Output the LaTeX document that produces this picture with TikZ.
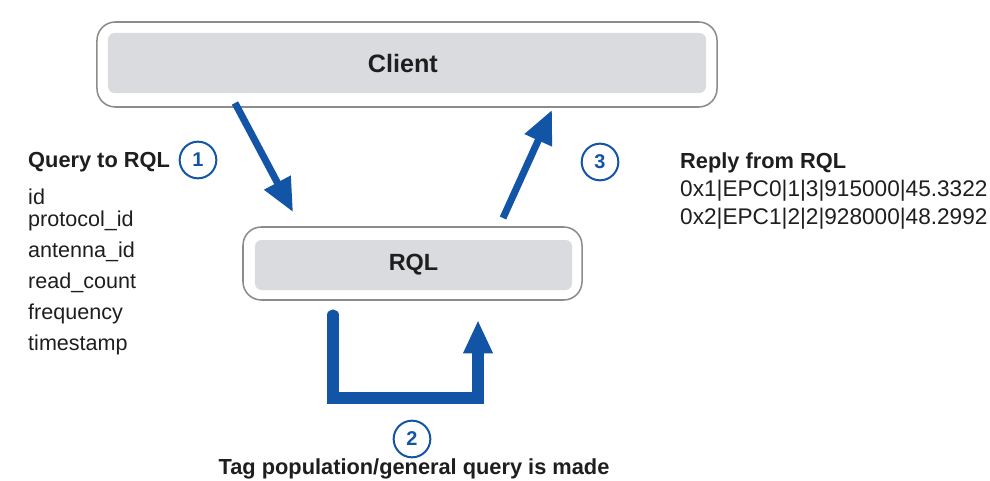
\documentclass[tikz,border=0pt]{standalone}
\usepackage{fontspec}
\setmainfont{Liberation Sans}
\usetikzlibrary{arrows.meta}
\definecolor{flowblue}{RGB}{18,84,165}
\definecolor{boxgray}{RGB}{218,219,222}
\definecolor{edgegray}{RGB}{140,140,140}
\definecolor{txt}{RGB}{30,30,30}
\begin{document}
\begin{tikzpicture}[x=0.03cm,y=-0.03cm,
  outerbox/.style={draw=edgegray,line width=1.3pt,fill=white,rounded corners=0.55cm,inner sep=0pt},
  innerbox/.style={fill=boxgray,rounded corners=0.2cm,inner sep=0pt,text=txt,font=\bfseries\fontsize{20}{22}\selectfont},
  stepnum/.style={circle,draw=flowblue,line width=1.7pt,text=flowblue,minimum size=1.1cm,inner sep=0pt,font=\bfseries\fontsize{17}{20}\selectfont},
  lbl/.style={anchor=west,inner sep=0pt,text=txt,font=\fontsize{18.4}{22}\selectfont},
  blbl/.style={anchor=west,inner sep=0pt,text=txt,font=\bfseries\fontsize{18.6}{22}\selectfont},
  flowarrow/.style={draw=flowblue,line width=6pt,-{Triangle[length=1.0cm,width=0.85cm]}},
  looparrow/.style={draw=flowblue,line width=9.5pt,-{Triangle[length=1.0cm,width=0.82cm]}}
]
\useasboundingbox[fill=white] (0,0) rectangle (990,480);

% boxes
\node[outerbox,minimum width=18.6cm,minimum height=2.55cm] (clientout) at (407,64.5) {};
\node[innerbox,minimum width=17.94cm,minimum height=1.8cm,font=\bfseries\fontsize{21.5}{24}\selectfont] (client) at (407,63) {\hspace*{-0.25cm}Client};
\node[outerbox,minimum width=10.17cm,minimum height=2.19cm] (rqlout) at (412.5,263.5) {};
\node[innerbox,minimum width=9.51cm,minimum height=1.5cm] (rql) at (413.5,265) {RQL};

% connector end points
\coordinate (a1s) at (235,103);
\coordinate (a1e) at (293,212);
\coordinate (a3s) at (503,218);
\coordinate (a3e) at (552,110);
\coordinate (l1) at (333,315);
\coordinate (l2) at (333,398);
\coordinate (l3) at (478,398);
\coordinate (l4) at (478,320);

\draw[flowarrow] (a1s) -- (a1e);
\draw[flowarrow] (a3s) -- (a3e);
\draw[looparrow,line cap=round] (l1) -- (l2) -- (l3) -- (l4);

% step numbers
\node[stepnum] (n1) at (198,160) {1};
\node[stepnum] (n2) at (412,439) {2};
\node[stepnum] (n3) at (600,162) {3};

% left text
\node[blbl] (q) at (28,162) {Query to RQL};
\node[lbl] (f1) at (28,197) {id};
\node[lbl] (f2) at (28,221) {protocol\_id};
\node[lbl] (f3) at (28,252) {antenna\_id};
\node[lbl] (f4) at (28,283) {read\_count};
\node[lbl] (f5) at (28,314) {frequency};
\node[lbl] (f6) at (28,345) {timestamp};

% right text
\node[blbl] (r) at (680,163) {Reply from RQL};
\node[lbl,font=\fontsize{19.3}{22}\selectfont] (r1) at (680,191) {0x1|EPC0|1|3|915000|45.3322};
\node[lbl,font=\fontsize{19.3}{22}\selectfont] (r2) at (680,219) {0x2|EPC1|2|2|928000|48.2992};

% bottom text
\node[blbl,anchor=center] (tag) at (414,469) {Tag population/general query is made};
\end{tikzpicture}
\end{document}
